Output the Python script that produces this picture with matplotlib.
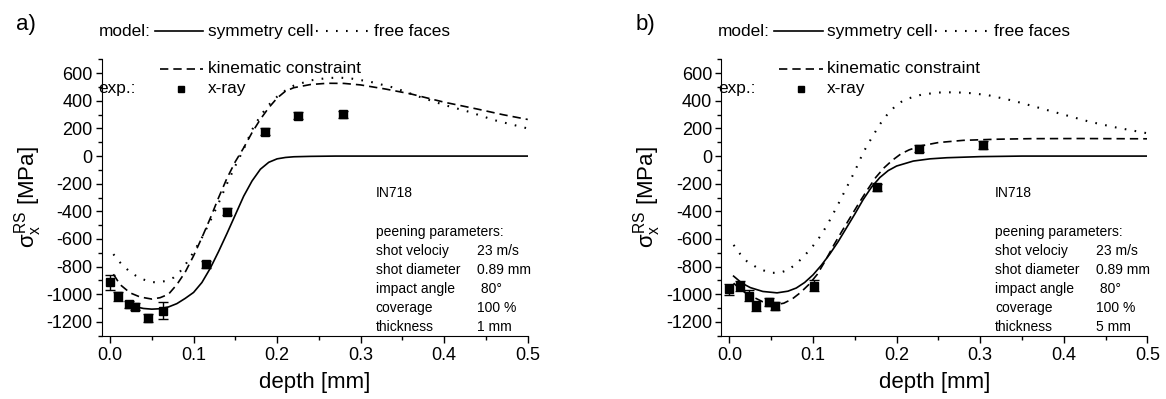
import numpy as np
import matplotlib
matplotlib.use("Agg")
import matplotlib.pyplot as plt
from matplotlib.ticker import MultipleLocator
from matplotlib.lines import Line2D

plt.rcParams['font.family'] = ['Liberation Sans', 'DejaVu Sans']
plt.rcParams['mathtext.fontset'] = 'custom'
plt.rcParams['mathtext.rm'] = 'Liberation Sans'
plt.rcParams['mathtext.it'] = 'Liberation Sans'
plt.rcParams['axes.unicode_minus'] = False

# ---- panel a) thickness 1 mm ----
a_sym_x = [0.02, 0.03, 0.04, 0.05, 0.06, 0.07, 0.08, 0.09, 0.10, 0.11, 0.12, 0.13, 0.14,
           0.15, 0.16, 0.17, 0.18, 0.19, 0.20, 0.21, 0.22, 0.24, 0.27, 0.30, 0.35, 0.40, 0.45, 0.50]
a_sym_y = [-1065, -1090, -1103, -1108, -1105, -1092, -1068, -1030, -987, -915, -812, -690, -560,
           -425, -290, -180, -95, -45, -20, -10, -5, -2, 0, 0, 0, 0, 0, 0]

a_kin_x = [0.004, 0.012, 0.024, 0.036, 0.05, 0.06, 0.07, 0.08, 0.09, 0.10, 0.11, 0.12, 0.13,
           0.14, 0.15, 0.16, 0.17, 0.18, 0.19, 0.20, 0.21, 0.22, 0.24, 0.26, 0.28, 0.30, 0.33,
           0.36, 0.40, 0.44, 0.47, 0.50]
a_kin_y = [-855, -930, -990, -1020, -1035, -1025, -1000, -930, -840, -722, -590, -450, -300,
           -160, -40, 60, 170, 267, 350, 420, 470, 495, 518, 527, 526, 515, 485,
           450, 390, 340, 300, 265]

a_free_x = [0.004, 0.012, 0.024, 0.036, 0.048, 0.056, 0.066, 0.076, 0.084, 0.092, 0.10, 0.11,
            0.12, 0.13, 0.14, 0.15, 0.16, 0.17, 0.18, 0.19, 0.20, 0.21, 0.22, 0.24, 0.26, 0.275,
            0.29, 0.31, 0.34, 0.37, 0.40, 0.43, 0.46, 0.50]
a_free_y = [-710, -770, -840, -885, -910, -915, -905, -880, -835, -770, -695, -590,
            -470, -340, -200, -70, 50, 190, 291, 370, 430, 475, 510, 548, 565, 568,
            560, 540, 495, 430, 370, 320, 260, 200]

a_exp_x = [0.0, 0.01, 0.023, 0.03, 0.045, 0.063, 0.115, 0.14, 0.185, 0.2255, 0.279]
a_exp_y = [-915, -1016, -1072, -1091, -1173, -1120, -782, -404, 175, 291, 303]
a_exp_err = [55, 35, 25, 25, 28, 62, 25, 25, 25, 25, 25]

# ---- panel b) thickness 5 mm ----
b_sym_x = [0.005, 0.015, 0.025, 0.04, 0.057, 0.07, 0.08, 0.09, 0.10, 0.11, 0.12, 0.13, 0.14,
           0.15, 0.16, 0.17, 0.18, 0.19, 0.20, 0.22, 0.24, 0.26, 0.30, 0.35, 0.40, 0.45, 0.50]
b_sym_y = [-869, -920, -952, -980, -990, -978, -955, -915, -860, -790, -710, -620, -520,
           -420, -315, -225, -155, -105, -72, -36, -20, -12, -4, 0, 0, 0, 0]

b_kin_x = [0.005, 0.015, 0.025, 0.04, 0.053, 0.065, 0.075, 0.085, 0.095, 0.105, 0.115, 0.125,
           0.135, 0.145, 0.155, 0.165, 0.175, 0.185, 0.195, 0.205, 0.215, 0.23, 0.25, 0.28,
           0.32, 0.36, 0.42, 0.50]
b_kin_y = [-920, -975, -1010, -1055, -1078, -1065, -1035, -988, -930, -857, -755, -643,
           -540, -440, -340, -245, -155, -85, -30, 15, 45, 75, 98, 114,
           122, 126, 127, 125]

b_free_x = [0.005, 0.013, 0.021, 0.035, 0.049, 0.06, 0.07, 0.08, 0.09, 0.10, 0.11, 0.12, 0.13,
            0.14, 0.15, 0.16, 0.17, 0.18, 0.19, 0.20, 0.21, 0.23, 0.25, 0.27, 0.29, 0.31, 0.34,
            0.37, 0.40, 0.43, 0.46, 0.50]
b_free_y = [-643, -710, -762, -815, -845, -845, -825, -780, -720, -650, -570, -465, -350,
            -230, -110, 25, 130, 230, 310, 370, 410, 445, 460, 462, 455, 440, 400,
            350, 300, 250, 210, 165]

b_exp_x = [0.0, 0.013, 0.023, 0.032, 0.047, 0.055, 0.101, 0.177, 0.227, 0.303]
b_exp_y = [-965, -940, -1011, -1083, -1054, -1083, -940, -226, 53, 81]
b_exp_err = [40, 35, 40, 35, 30, 28, 40, 25, 25, 28]

param_names = ["shot velociy", "shot diameter", "impact angle", "coverage", "thickness"]
params_a = ["23 m/s", "0.89 mm", " 80°", "100 %", "1 mm"]
params_b = ["23 m/s", "0.89 mm", " 80°", "100 %", "5 mm"]

LW = 1.2
DASH = (0, (5, 3))
DOT = (0, (0.8, 4))


def draw_panel(ax, tag, sym, kin, free, exp, params):
    ax.plot(sym[0], sym[1], color='black', lw=LW)
    ax.plot(kin[0], kin[1], color='black', lw=LW, linestyle=DASH)
    ax.plot(free[0], free[1], color='black', lw=1.5, linestyle=DOT)
    ax.errorbar(exp[0], exp[1], yerr=exp[2], fmt='s', color='black', ms=5.6,
                capsize=3.5, elinewidth=1, capthick=1)

    ax.set_xlim(-0.01, 0.5)
    ax.set_ylim(-1300, 700)
    ax.xaxis.set_major_locator(MultipleLocator(0.1))
    ax.xaxis.set_minor_locator(MultipleLocator(0.05))
    ax.yaxis.set_major_locator(MultipleLocator(200))
    ax.yaxis.set_minor_locator(MultipleLocator(100))
    ax.xaxis.set_major_formatter(lambda v, p: f"{v:.1f}")
    ax.spines['top'].set_visible(False)
    ax.spines['right'].set_visible(False)
    ax.tick_params(which='major', direction='out', width=1, labelsize=13)
    ax.tick_params(axis='x', which='major', length=5, pad=3)
    ax.tick_params(axis='y', which='major', length=4, pad=2.5)
    ax.tick_params(which='minor', direction='out', length=3, width=1)
    ax.set_xlabel("depth [mm]", fontsize=16, labelpad=6)
    ax.set_ylabel(r"$\sigma_{x}^{RS}$ [MPa]", fontsize=16, labelpad=2)

    # custom legend block above the plot
    t = ax.transAxes
    fs = 12.4
    ax.text(-0.2, 1.127, tag, transform=t, fontsize=16, va='center', ha='left')
    ax.text(-0.007, 1.101, "model:", transform=t, fontsize=fs, va='center')
    ax.add_line(Line2D([0.125, 0.238], [1.101, 1.101], transform=t, color='black',
                       lw=LW, clip_on=False))
    ax.text(0.249, 1.101, "symmetry cell", transform=t, fontsize=fs, va='center')
    ax.add_line(Line2D([0.503, 0.630], [1.101, 1.101], transform=t, color='black',
                       lw=1.5, linestyle=DOT, clip_on=False))
    ax.text(0.64, 1.101, "free faces", transform=t, fontsize=fs, va='center')
    ax.add_line(Line2D([0.137, 0.238], [0.966, 0.966], transform=t, color='black',
                       lw=LW, linestyle=DASH, clip_on=False))
    ax.text(0.249, 0.966, "kinematic constraint", transform=t, fontsize=fs, va='center')
    ax.text(-0.007, 0.893, "exp.:", transform=t, fontsize=fs, va='center')
    ax.plot([0.187], [0.893], 's', color='black', ms=5, transform=t, clip_on=False)
    ax.text(0.249, 0.893, "x-ray", transform=t, fontsize=fs, va='center')

    # annotation block
    ax.text(0.643, 0.518, "IN718", transform=t, fontsize=10, va='center')
    ax.text(0.643, 0.377, "peening parameters:", transform=t, fontsize=10, va='center')
    for i, (name, val) in enumerate(zip(param_names, params)):
        y = 0.308 - i * 0.0688
        ax.text(0.643, y, name, transform=t, fontsize=10, va='center')
        ax.text(0.880, y, val, transform=t, fontsize=10, va='center')


fig = plt.figure(figsize=(11.66, 3.99), dpi=100)
ax1 = fig.add_axes([0.0872, 0.1587, 0.3654, 0.6925])
ax2 = fig.add_axes([0.6184, 0.1587, 0.3656, 0.6925])

draw_panel(ax1, "a)", (a_sym_x, a_sym_y), (a_kin_x, a_kin_y), (a_free_x, a_free_y),
           (a_exp_x, a_exp_y, a_exp_err), params_a)
draw_panel(ax2, "b)", (b_sym_x, b_sym_y), (b_kin_x, b_kin_y), (b_free_x, b_free_y),
           (b_exp_x, b_exp_y, b_exp_err), params_b)

fig.savefig("out.png", dpi=100)
